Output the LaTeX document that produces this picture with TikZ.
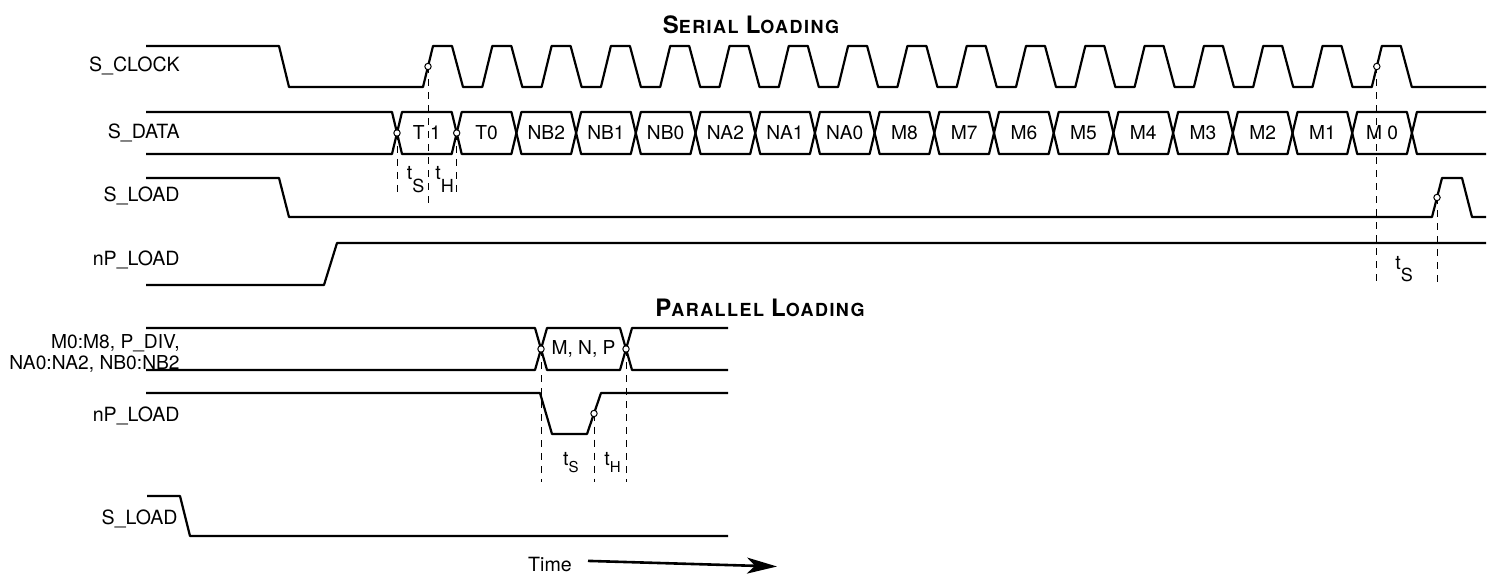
\documentclass[tikz,border=0pt]{standalone}
\usepackage{fontspec}
\setmainfont{TeX Gyre Heros}
\usepackage{tikz}
\usetikzlibrary{arrows.meta}

\begin{document}
\begin{tikzpicture}[x=0.5pt,y=-0.5pt,
    sig/.style={line width=1.1pt,line join=round},
    hilf/.style={line width=0.5pt,dash pattern=on 3.5pt off 3pt},
    pkt/.style={fill=white,draw=black,line width=0.5pt},
    lbl/.style={anchor=east,inner sep=0pt,font=\fontsize{9.8}{11}\selectfont},
    zelle/.style={inner sep=0pt,font=\fontsize{9.6}{11}\selectfont},
    zeit/.style={anchor=base west,inner sep=0pt,font=\fontsize{9.8}{11}\selectfont},
    titel/.style={anchor=base,inner sep=0pt,font=\bfseries\addfontfeature{LetterSpace=8}}]
            \useasboundingbox (0,0) rectangle (1494,577);

            % Ueberschriften
            \node[titel] (serial) at (751,33.5) {{\fontsize{12}{14}\selectfont S}{\fontsize{9}{11}\selectfont ERIAL} {\fontsize{12}{14}\selectfont L}{\fontsize{9}{11}\selectfont OADING}};
            \node[titel] (parallel) at (760,316) {{\fontsize{12}{14}\selectfont P}{\fontsize{9}{11}\selectfont ARALLEL} {\fontsize{12}{14}\selectfont L}{\fontsize{9}{11}\selectfont OADING}};

            % Signalnamen
            \node[lbl] (sclk) at (180,65.7) {S\_CLOCK};
            \node[lbl] (sdat) at (180,133) {S\_DATA};
            \node[lbl] (sld) at (180,196) {S\_LOAD};
            \node[lbl] (npld) at (180,260) {nP\_LOAD};
            \node[lbl,anchor=north east,align=right,font=\fontsize{9.6}{10.5}\selectfont] (mnp) at (180,334.5) {M0:M8, P\_DIV,\\NA0:NA2, NB0:NB2};
            \node[lbl] (npldp) at (180,416) {nP\_LOAD};
            \node[lbl] (sldp) at (178,519) {S\_LOAD};

            % Punkte festlegen:
            \coordinate (k1) at (428,66.5);
            \coordinate (k2) at (1376.8,66.5);
            \coordinate (k3) at (397,133);
            \coordinate (k4) at (456.7,133);
            \coordinate (k5) at (1437,197.5);
            \coordinate (k6) at (541,349);
            \coordinate (k7) at (626,349);
            \coordinate (k8) at (594,413.5);

            % Hilfslinien
            \draw[hilf] (k1) -- ++(0,137);
            \draw[hilf] (k3) -- ++(0,65);
            \draw[hilf] (k4) -- ++(0,65);
            \draw[hilf] (k2) -- ++(0,217);
            \draw[hilf] (k5) -- ++(0,86);
            \draw[hilf] (k6) -- ++(0,133);
            \draw[hilf] (k7) -- ++(0,133);
            \draw[hilf] (k8) -- ++(0,68.5);

            % Serielles Laden
            \draw[sig] (146,46) -- (279,46) -- (289,87)
                \foreach \k in {0,...,16} { -- ({423+59.3*\k},87) -- ++(10,-41) -- ++(19,0) -- ++(11,41) }
                -- (1486,87);
            \draw[sig] (146,112)
                \foreach \j in {0,2,...,16} { -- ({392+59.7*\j},112) -- ++(10,42) -- ({392+59.7*(\j+1)},154) -- ++(10,-42) }
                -- (1486,112);
            \draw[sig] (146,154)
                \foreach \j in {0,2,...,16} { -- ({392+59.7*\j},154) -- ++(10,-42) -- ({392+59.7*(\j+1)},112) -- ++(10,42) }
                -- (1486,154);
            \foreach \t [count=\i] in {T 1,T0,NB2,NB1,NB0,NA2,NA1,NA0,M8,M7,M6,M5,M4,M3,M2,M1,M 0}
                \node[zelle] (d\i) at ({397+59.7*(\i-0.5)},133) {\t};
            \draw[sig] (146,178) -- (279,178) -- (289,217) -- (1432,217) -- (1442,178) -- (1462,178) -- (1472,217) -- (1486,217);
            \draw[sig] (146,285) -- (324,285) -- (337,243) -- (1486,243);

            % Paralleles Laden
            \draw[sig] (146,328) -- (535,328) -- (547,370) -- (620,370) -- (632,328) -- (728,328);
            \draw[sig] (146,370) -- (535,370) -- (547,328) -- (620,328) -- (632,370) -- (728,370);
            \node[zelle] (mnpw) at (583.5,349) {M, N, P};
            \draw[sig] (146,393) -- (540,393) -- (552,434) -- (587,434) -- (601,393) -- (728,393);
            \draw[sig] (147,496) -- (180,496) -- (190,536) -- (728,536);

            % Zeiten
            \node[zeit] (ts1) at (406.5,180) {t\raisebox{-6.5pt}{\fontsize{9}{10}\selectfont S}};
            \node[zeit] (th1) at (435,180) {t\raisebox{-6.5pt}{\fontsize{9}{10}\selectfont H}};
            \node[zeit] (ts2) at (1395,270) {t\raisebox{-5.8pt}{\fontsize{9}{10}\selectfont S}};
            \node[zeit] (ts3) at (562.7,465) {t\raisebox{-3.9pt}{\fontsize{7.5}{8}\selectfont S}};
            \node[zeit] (th3) at (604,465) {t\raisebox{-3.9pt}{\fontsize{7.5}{8}\selectfont H}};

            % Punkte einzeichnen:
            \filldraw[pkt] (k1) circle (1.6pt);
            \filldraw[pkt] (k2) circle (1.6pt);
            \filldraw[pkt] (k3) circle (1.6pt);
            \filldraw[pkt] (k4) circle (1.6pt);
            \filldraw[pkt] (k5) circle (1.6pt);
            \filldraw[pkt] (k6) circle (1.6pt);
            \filldraw[pkt] (k7) circle (1.6pt);
            \filldraw[pkt] (k8) circle (1.6pt);

            % Zeitachse
            \node[zeit,anchor=base] (time) at (550,571.7) {Time};
            \coordinate (tend) at (777,566.5);
            \draw[line width=1.3pt,-{Stealth[length=15pt,width=8pt,inset=4pt]}] ([xshift=19pt]time.base) ++(0,5.4pt) coordinate (tstart) -- (tend);

        \end{tikzpicture}
\end{document}
